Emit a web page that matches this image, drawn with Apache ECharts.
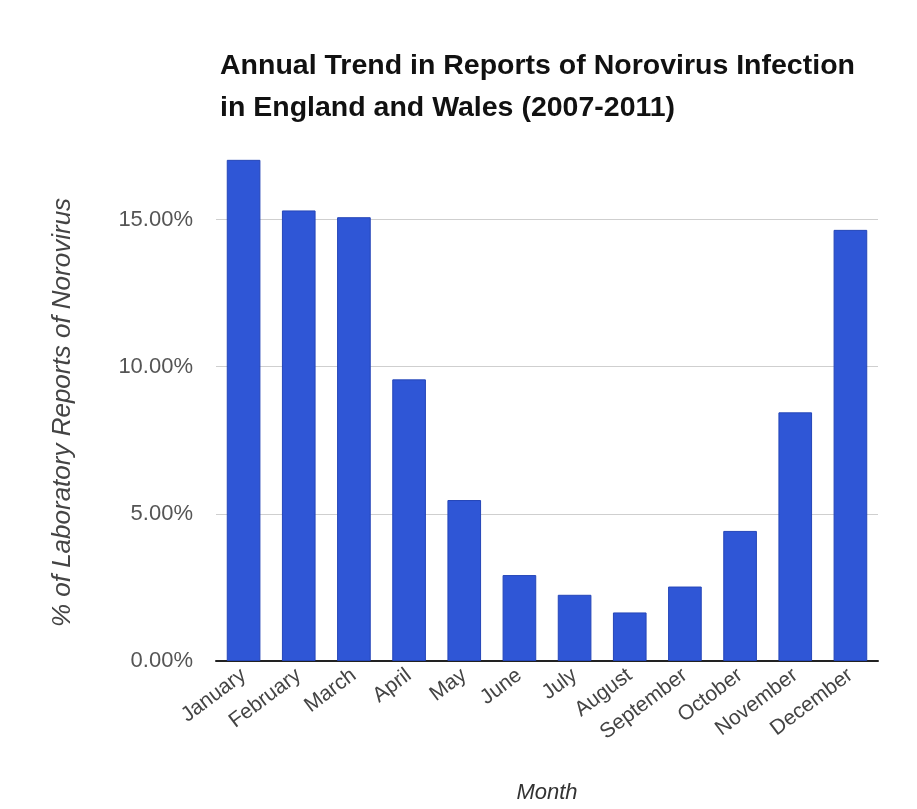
<!DOCTYPE html>
<html>
<head>
<meta charset="utf-8">
<script src="https://cdn.jsdelivr.net/npm/echarts@6/dist/echarts.min.js"></script>
<style>
html,body{margin:0;padding:0;background:#fff;}
#chart{width:917px;height:809px;}
</style>
</head>
<body>
<div id="chart"></div>
<script>
const months = ["January","February","March","April","May","June","July","August","September","October","November","December"];
const percentReports = [17.03, 15.31, 15.08, 9.57, 5.47, 2.92, 2.25, 1.65, 2.53, 4.42, 8.45, 14.65];
const yTicks = [0, 5, 10, 15];
const titleLines = ["Annual Trend in Reports of Norovirus Infection", "in England and Wales (2007-2011)"];

const FONT = "'Liberation Sans', Arial, sans-serif";

const chart = echarts.init(document.getElementById('chart'), null, {renderer: 'canvas'});
chart.setOption({
  backgroundColor: '#ffffff',
  animation: false,
  title: {
    text: titleLines.join('\n'),
    left: 215,
    top: 40,
    textStyle: {
      fontFamily: FONT,
      fontWeight: 'bold',
      fontSize: 28.5,
      lineHeight: 42,
      color: '#111'
    }
  },
  grid: {left: 216, right: 39, top: 146, bottom: 147, containLabel: false},
  xAxis: {
    type: 'category',
    data: months,
    name: 'Month',
    nameLocation: 'middle',
    nameGap: 121,
    nameTextStyle: {fontFamily: FONT, fontStyle: 'italic', fontSize: 22, color: '#333'},
    axisLine: {lineStyle: {color: '#222', width: 2}},
    axisTick: {show: false},
    axisLabel: {
      rotate: 37,
      interval: 0,
      margin: 12,
      fontFamily: FONT,
      fontSize: 21,
      color: '#444'
    }
  },
  yAxis: {
    type: 'value',
    min: 0,
    max: 17.5,
    interval: 5,
    name: '% of Laboratory Reports of Norovirus',
    nameLocation: 'middle',
    nameGap: 140,
    nameRotate: 90,
    nameTextStyle: {fontFamily: FONT, fontStyle: 'italic', fontSize: 26, color: '#444', padding: [0, 18, 0, 0]},
    axisLine: {show: false},
    axisTick: {show: false},
    axisLabel: {
      margin: 23,
      fontFamily: FONT,
      fontSize: 22,
      color: '#555',
      formatter: function (v) { return yTicks.indexOf(v) >= 0 ? v.toFixed(2) + '%' : ''; }
    },
    splitLine: {show: true, showMaxLine: false, lineStyle: {color: '#cfcfcf', width: 1}}
  },
  series: [{
    type: 'bar',
    data: percentReports,
    barWidth: '61%',
    itemStyle: {color: '#2f56d6', borderColor: '#2546b8', borderWidth: 1}
  }]
});
</script>
</body>
</html>
